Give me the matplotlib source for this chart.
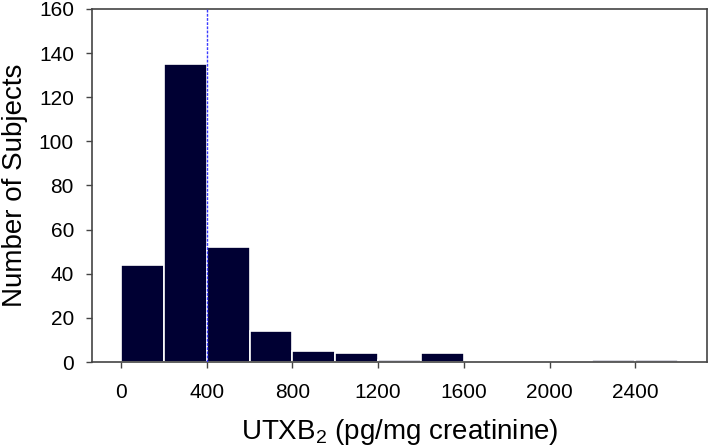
import matplotlib
matplotlib.use("Agg")
import matplotlib.pyplot as plt

plt.rcParams['font.family'] = ['Liberation Sans', 'DejaVu Sans']
plt.rcParams['mathtext.fontset'] = 'custom'
plt.rcParams['mathtext.rm'] = 'Liberation Sans'
plt.rcParams['mathtext.it'] = 'Liberation Sans'

# histogram bins (left edges, pg/mg creatinine) and counts
bin_left = [0, 200, 400, 600, 800, 1000, 1200, 1400, 1600, 1800, 2000, 2200, 2400]
counts = [44, 135, 52, 14, 5, 4, 1, 4, 0, 0, 0, 1, 1]
bin_width = 200
cutoff = 400

x_ticks = [0, 400, 800, 1200, 1600, 2000, 2400]
y_ticks = [0, 20, 40, 60, 80, 100, 120, 140, 160]

fig = plt.figure(figsize=(7.09, 4.48), dpi=100)
ax = fig.add_axes([92 / 709, 1 - 362 / 448, (707 - 92) / 709, (362 - 9) / 448])

ax.bar(bin_left, counts, width=bin_width, align='edge',
       color='#000033', edgecolor='white', linewidth=1.2, zorder=2)
ax.axvline(cutoff, color='#3a3aff', linestyle=(0, (2, 1)), linewidth=1.0, zorder=3)

ax.set_xlim(-135, 2735)
ax.set_ylim(0, 160)
ax.set_xticks(x_ticks)
ax.set_yticks(y_ticks)
ax.tick_params(direction='out', length=4, width=1, color='#444444',
               labelsize=15)
ax.tick_params(axis='x', pad=11)
ax.tick_params(axis='y', pad=9)
ax.tick_params(top=False, right=False)
for s in ax.spines.values():
    s.set_color('#444444')
    s.set_linewidth(1.2)

ax.set_xlabel(r'UTXB$_2$ (pg/mg creatinine)', fontsize=20)
ax.set_ylabel('Number of Subjects', fontsize=20)
ax.xaxis.set_label_coords(0.5, -0.155)
ax.yaxis.set_label_coords(-0.104, 0.5)

fig.savefig('out.png', dpi=100)
